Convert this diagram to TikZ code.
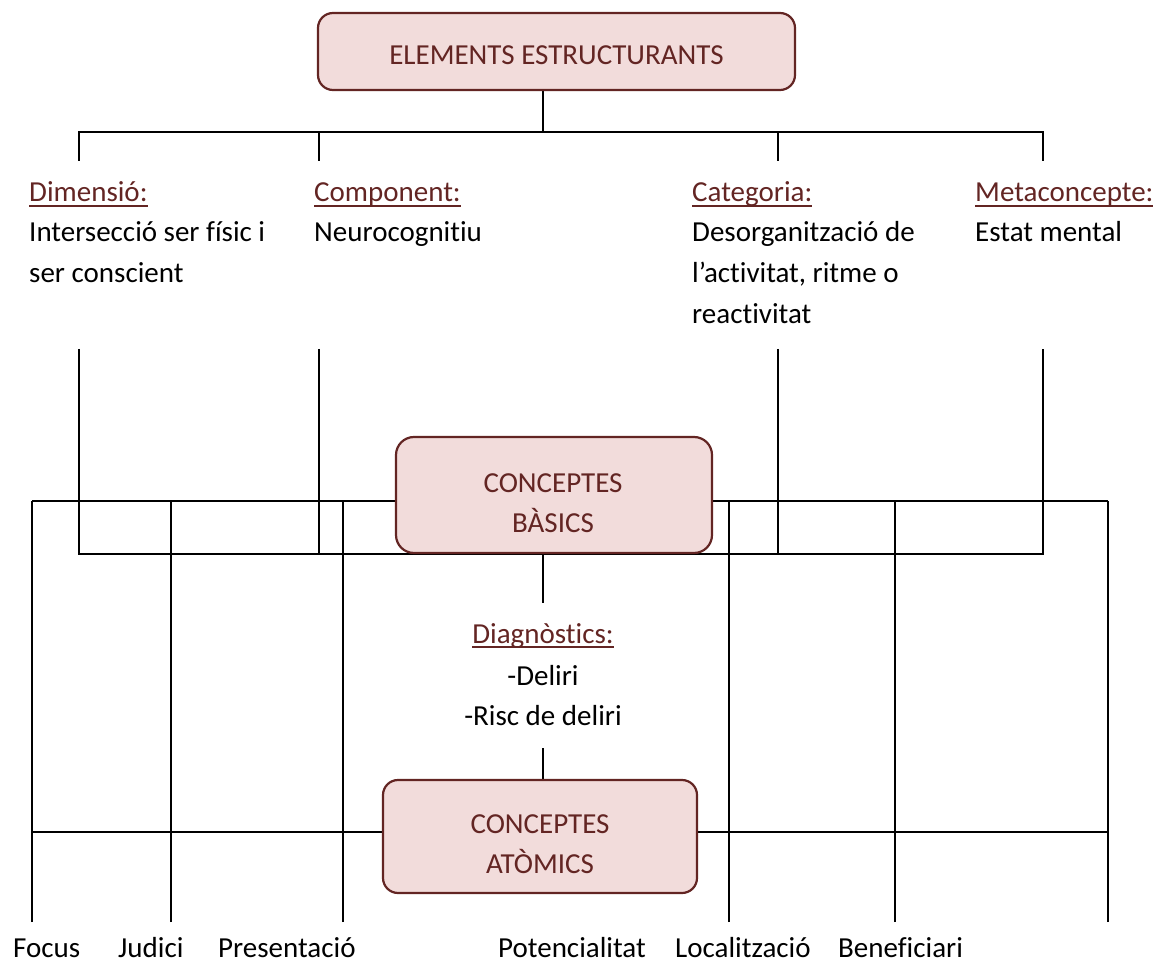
\documentclass[tikz,border=0pt]{standalone}
\usepackage{fontspec}
\setmainfont{Carlito}[Ligatures=NoCommon]
\usetikzlibrary{backgrounds}
\definecolor{dred}{HTML}{632523}
\definecolor{boxfill}{HTML}{F2DCDB}
\newcommand\hdr[1]{\setbox0\hbox{#1}\rlap{\rule[-5pt]{\wd0}{1.6pt}}\box0}
\begin{document}
\begin{tikzpicture}[x=1pt,y=-1pt,
  txt/.style={font=\fontsize{29}{40}\selectfont, inner sep=0pt, anchor=base west},
  ctxt/.style={txt, anchor=base},
  head/.style={txt, text=dred},
  box/.style={draw=dred, line width=2.2pt, fill=boxfill, rounded corners=15pt, inner sep=0pt},
  btxt/.style={ctxt, text=dred},
  link/.style={line width=1.8pt, line join=miter},
  link2/.style={line width=1.4pt}]
\useasboundingbox (0,0) rectangle (1159,965);

% boxes
\node[box, minimum width=477pt, minimum height=77pt] (ee) at (556.5,51.5) {};
\node[btxt] (eet) at (556.5,65) {ELEMENTS ESTRUCTURANTS};
\node[box, minimum width=316pt, minimum height=116pt, rounded corners=18pt] (cb) at (554,495) {};
\node[btxt] (cbt1) at (553,492) {CONCEPTES};
\node[btxt] (cbt2) at (553,532) {BÀSICS};
\node[box, minimum width=314pt, minimum height=113pt] (ca) at (540,836.5) {};
\node[btxt] (cat1) at (540,833) {CONCEPTES};
\node[btxt] (cat2) at (540,873) {ATÒMICS};

% labels of elements
\node[head] (dimh) at (29,202) {\hdr{Dimensió:}};
\node[txt] (dim1) at (29,242) {Intersecció ser físic i};
\node[txt] (dim2) at (29,283) {ser conscient};
\node[head] (comh) at (314,202) {\hdr{Component:}};
\node[txt] (com1) at (314,242) {Neurocognitiu};
\node[head] (cgh) at (692,202) {\hdr{Categoria:}};
\node[txt] (cg1) at (692,242) {Desorganització de};
\node[txt] (cg2) at (692,283) {l’activitat, ritme o};
\node[txt] (cg3) at (692,324) {reactivitat};
\node[head] (meth) at (975,202) {\hdr{Metaconcepte:}};
\node[txt] (met1) at (975,242) {Estat mental};

% diagnostics
\node[ctxt, text=dred] (dgh) at (543,643) {\hdr{Diagnòstics:}};
\node[ctxt] (dg1) at (543,685) {-Deliri};
\node[ctxt] (dg2) at (543,725) {-Risc de deliri};

% bottom labels
\node[txt] (lfocus) at (13,957) {Focus};
\node[txt] (ljudici) at (118,957) {Judici};
\node[txt] (lpres) at (218,957) {Presentació};
\node[txt] (lpot) at (498,957) {Potencialitat};
\node[txt] (lloc) at (675,957) {Localització};
\node[txt] (lben) at (838,957) {Beneficiari};

% coordinates
\coordinate (j1) at (543,132);
\coordinate (ta) at (79,161);
\coordinate (tb) at (319,161);
\coordinate (tc) at (778,161);
\coordinate (td) at (1043,161);
\coordinate (j2) at (543,554);
\coordinate (ba) at (79,349);
\coordinate (bb) at (319,349);
\coordinate (bc) at (778,349);
\coordinate (bd) at (1043,349);
\coordinate (s1) at (543,603);
\coordinate (s2) at (543,748);
\coordinate (h1) at (32,501);
\coordinate (h1r) at (1108,501);
\coordinate (h2) at (32,832);
\coordinate (h2r) at (1108,832);
\coordinate (f1) at (32,922);
\coordinate (f2) at (171,922);
\coordinate (f3) at (343,922);
\coordinate (f4) at (729,922);
\coordinate (f5) at (895,922);
\coordinate (f6) at (1108,922);

\begin{scope}[on background layer]
\draw[link] (ee.south -| j1) -- (j1);
\draw[link] (ta) -- (ta |- j1) -- (td |- j1) -- (td);
\draw[link] (tb) -- (tb |- j1);
\draw[link] (tc) -- (tc |- j1);
\draw[link] (ba) -- (ba |- j2) -- (bd |- j2) -- (bd);
\draw[link] (bb) -- (bb |- j2);
\draw[link] (bc) -- (bc |- j2);
\draw[link] (cb.south -| j2) -- (s1);
\draw[link] (s2) -- (ca.north -| s2);
\draw[link2] (h1) -- (h1r);
\draw[link2] (h2) -- (h2r);
\foreach \f in {f1,f2,f3,f4,f5,f6} \draw[link2] (\f) -- (\f |- h1);
\end{scope}
\end{tikzpicture}
\end{document}
